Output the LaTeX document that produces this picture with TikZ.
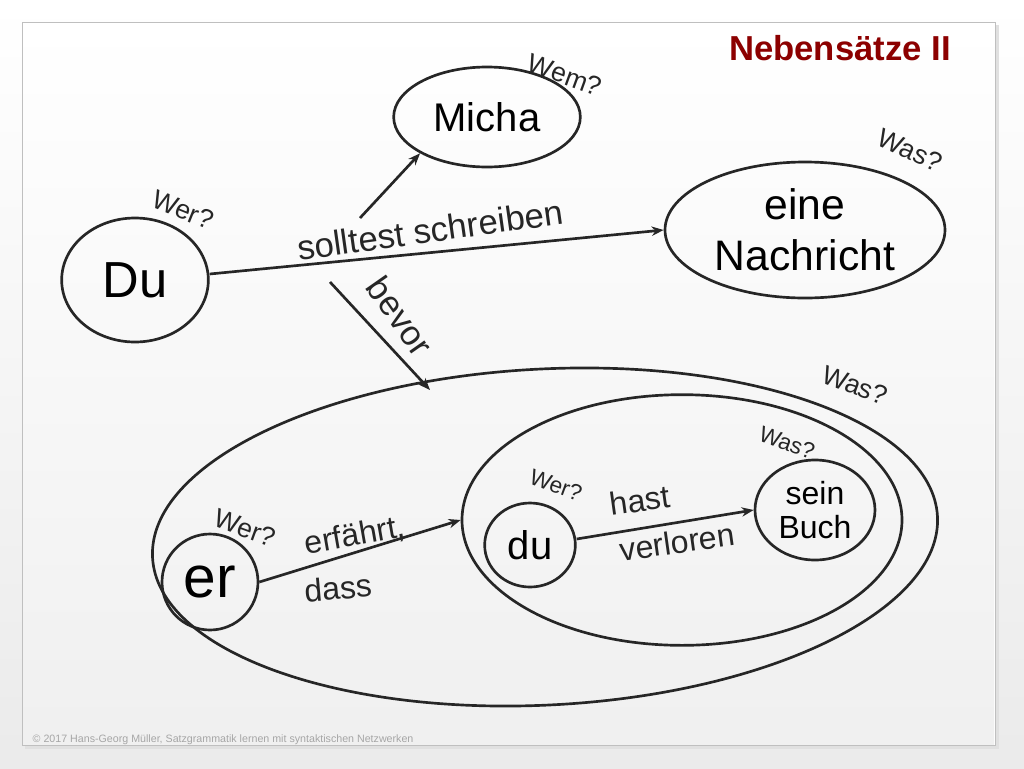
\documentclass[tikz,border=0pt]{standalone}
\usepackage{fontspec}
\setmainfont{Liberation Sans}
\usetikzlibrary{arrows.meta,shapes.geometric}
\begin{document}
\begin{tikzpicture}[x=0.75pt,y=-0.75pt,
  ell/.style={draw=black!85,line width=2pt,ellipse,inner sep=0pt},
  arr/.style={draw=black!85,line width=2pt,-{Stealth[length=9pt,width=7pt]}},
  q/.style={font=\fontsize{20}{20}\selectfont,text=black!85},
  lab/.style={font=\fontsize{24}{26}\selectfont,text=black!85,align=center}]
\useasboundingbox (0,0) rectangle (1024,768);
\shade[top color=white,bottom color=black!8] (0,0) rectangle (1024,768);
\fill[black!12] (25,25) rectangle (999,749);
\draw[black!25,fill=white] (22,22) rectangle (995,745);
\shade[top color=white,bottom color=black!6] (23,23) rectangle (994,744);
\node[text=red!55!black,font=\fontsize{26}{26}\selectfont\bfseries] (title) at (840,48) {Nebensätze II};
\node[anchor=west,text=black!35,font=\fontsize{8}{8}\selectfont] (foot) at (28,740) {© 2017 Hans-Georg Müller, Satzgrammatik lernen mit syntaktischen Netzwerken};
% ellipses
\node[ell,minimum width=140pt,minimum height=75pt,font=\fontsize{30}{30}\selectfont] (micha) at (487,117) {Micha};
\node[ell,minimum width=210pt,minimum height=102pt,align=center,font=\fontsize{32}{38}\selectfont] (nach) at (805,230) {eine\\Nachricht};
\node[ell,minimum width=110pt,minimum height=93pt,font=\fontsize{38}{38}\selectfont] (du) at (135,280) {Du};
\draw[draw=black!85,line width=2pt,rotate around={3:(545,537)}] (545,537) ellipse [x radius=393, y radius=168];
\node[ell,minimum width=330pt,minimum height=188pt] (inner) at (682,520) {};
\node[ell,minimum width=72pt,minimum height=72pt,font=\fontsize{44}{44}\selectfont] (er) at (210,582) {er};
\node[ell,minimum width=68pt,minimum height=63pt,font=\fontsize{30}{30}\selectfont] (du2) at (530,545) {du};
\node[ell,minimum width=90pt,minimum height=75pt,align=center,font=\fontsize{24}{26}\selectfont] (buch) at (815,510) {sein\\Buch};
\coordinate (bigtop) at (430,390);
\coordinate (b1) at (360,218);
\coordinate (b2) at (330,282);
% arrows
\draw[arr] (du.east) ++(0,-6) -- (nach.west);
\draw[arr] (b1) -- (micha.south west);
\draw[arr] (b2) -- (bigtop);
\draw[arr] (er.east) -- (inner.west);
\draw[arr] (du2.east) ++(0,-6) -- (buch.west);
% labels
\node[lab,font=\fontsize{26}{26}\selectfont,rotate=8] (l1) at (430,230) {solltest schreiben};
\node[lab,font=\fontsize{26}{26}\selectfont,rotate=-55] (l2) at (400,316) {bevor};
\node[lab,rotate=10] (l3) at (355,536) {erfährt,};
\node[lab,rotate=5] (l4) at (338,588) {dass};
\node[lab,rotate=8] (l5) at (640,500) {hast};
\node[lab,rotate=8] (l6) at (677,542) {verloren};
\node[q,rotate=-20] (q1) at (565,75) {Wem?};
\node[q,rotate=-25] (q2) at (910,150) {Was?};
\node[q,rotate=-22] (q3) at (183,210) {Wer?};
\node[q,rotate=-20] (q4) at (855,385) {Was?};
\node[q,rotate=-20,font=\fontsize{17}{17}\selectfont] (q5) at (787,443) {Was?};
\node[q,rotate=-20,font=\fontsize{17}{17}\selectfont] (q6) at (556,485) {Wer?};
\node[q,rotate=-20] (q7) at (245,528) {Wer?};
\end{tikzpicture}
\end{document}
